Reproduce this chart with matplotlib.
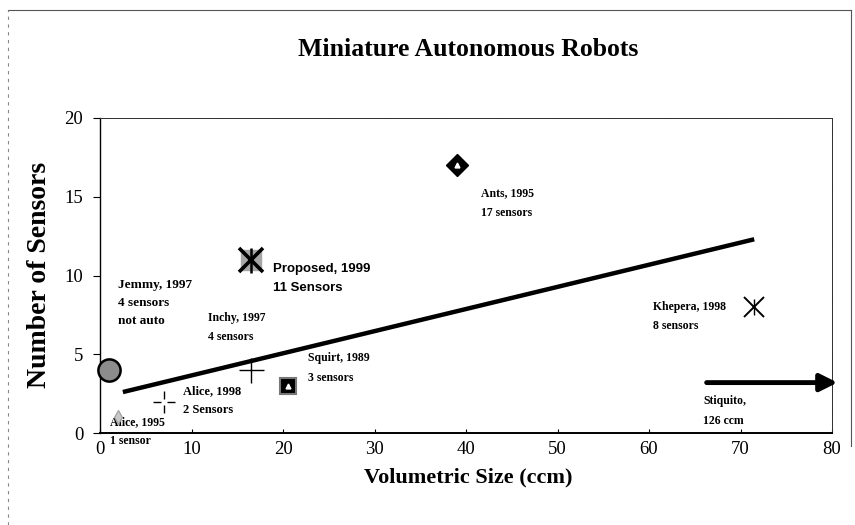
import matplotlib
matplotlib.use("Agg")
import matplotlib.pyplot as plt
from matplotlib.path import Path
from matplotlib.lines import Line2D

# robots: volumetric size (ccm) vs number of sensors
robots = ["Jemmy", "Alice 1995", "Alice 1998", "Inchy", "Squirt", "Proposed", "Ants", "Khepera"]
size_ccm = [1.0, 2.0, 7.0, 16.5, 20.5, 16.5, 39.0, 71.5]
sensors = [4, 1, 2, 4, 3, 11, 17, 8]

# trend line end points
trend_x = [2.5, 71.5]
trend_y = [2.6, 12.3]

# Stiquito (126 ccm) is off the scale, shown as an arrow
stiquito_x = [66.3, 80.6]
stiquito_y = 3.2

label_text = [
    "Jemmy, 1997\n4 sensors\nnot auto",
    "Alice, 1995\n1 sensor",
    "Alice, 1998\n2 Sensors",
    "Inchy, 1997\n4 sensors",
    "Squirt, 1989\n3 sensors",
    "Proposed, 1999\n11 Sensors",
    "Ants, 1995\n17 sensors",
    "Khepera, 1998\n8 sensors",
    "Stiquito,\n126 ccm",
]
label_x = [2.0, 1.1, 9.1, 11.8, 22.7, 18.9, 41.6, 60.4, 65.9]
label_y = [9.75, 1.1, 3.05, 7.7, 5.15, 10.8, 15.6, 8.4, 2.4]
label_size = [9.5, 8.5, 9, 8.5, 8.5, 9.5, 8.5, 8.5, 8.5]

serif = "Liberation Serif"
sans = "Liberation Sans"

fig = plt.figure(figsize=(8.55, 5.25), dpi=100)
ax = fig.add_axes([100 / 855, 92 / 525, 732 / 855, 315 / 525])

ax.set_xlim(0, 80)
ax.set_ylim(0, 20)
ax.set_xticks(range(0, 81, 10))
ax.set_yticks(range(0, 21, 5))
for lab in ax.get_xticklabels() + ax.get_yticklabels():
    lab.set_family(serif)
    lab.set_fontsize(13.5)
ax.tick_params(axis="y", direction="out", length=5, width=0.8, pad=7)
ax.tick_params(axis="x", direction="in", length=3, width=0.8, pad=6)
for side in ["top", "right"]:
    ax.spines[side].set_linewidth(0.7)
    ax.spines[side].set_linestyle((0, (1, 0.6)))
    ax.spines[side].set_color("#333333")
ax.spines["left"].set_linewidth(1.0)
ax.spines["bottom"].set_linewidth(1.4)

# trend line
ax.plot(trend_x, trend_y, color="black", lw=3.2, solid_capstyle="butt", zorder=2)

# broken plus used for Alice 1998
gap_plus = Path(
    [(-1, 0), (-0.25, 0), (0.25, 0), (1, 0), (0, -1), (0, -0.25), (0, 0.25), (0, 1)],
    [Path.MOVETO, Path.LINETO, Path.MOVETO, Path.LINETO,
     Path.MOVETO, Path.LINETO, Path.MOVETO, Path.LINETO],
)

x, y = size_ccm, sensors
# Jemmy
ax.plot(x[0], y[0], "o", ms=16, mfc="#8c8c8c", mec="black", mew=1.8, clip_on=False, zorder=4)
# Alice 1995
ax.plot(x[1], y[1], "d", ms=7, mfc="#c8c8c8", mec="#9a9a9a", mew=0.8, zorder=4)
# Alice 1998
ax.plot(x[2], y[2], marker=gap_plus, ms=16, color="black", mew=1.0, ls="none", zorder=4)
# Inchy
ax.plot(x[3], y[3], "+", ms=18, color="black", mew=1.0, zorder=4)
# Squirt
ax.plot(x[4], y[4], "s", ms=12, mfc="black", mec="#777777", mew=1.5, zorder=4)
ax.plot(x[4], y[4], "^", ms=3.5, mfc="white", mec="white", zorder=5)
# Proposed
ax.plot(x[5], y[5], "s", ms=14, mfc="#a6a6a6", mec="#a6a6a6", zorder=4)
ax.plot(x[5], y[5], "x", ms=17, color="black", mew=2.6, zorder=5)
ax.plot(x[5], y[5], "|", ms=18, color="black", mew=1.8, zorder=5)
# Ants
ax.plot(x[6], y[6], "D", ms=11, mfc="black", mec="black", zorder=4)
ax.plot(x[6], y[6], "^", ms=3.5, mfc="white", mec="white", zorder=5)
# Khepera
ax.plot(x[7], y[7], "x", ms=15, color="black", mew=1.4, zorder=4)
ax.plot(x[7], y[7], "|", ms=11, color="black", mew=1.0, zorder=4)

# Stiquito arrow
ax.annotate("", xy=(stiquito_x[1], stiquito_y), xytext=(stiquito_x[0], stiquito_y),
            arrowprops=dict(arrowstyle="-|>", lw=3.5, color="black", mutation_scale=26,
                            shrinkA=0, shrinkB=0),
            annotation_clip=False)

for t, lx, ly, fs in zip(label_text, label_x, label_y, label_size):
    if t.startswith("Proposed"):
        ax.text(lx, ly, t, family=sans, fontweight="bold", fontsize=fs,
                ha="left", va="top", linespacing=1.75, clip_on=False)
    else:
        ax.text(lx, ly, t, family=serif, fontweight="bold", fontsize=fs,
                ha="left", va="top", linespacing=1.85 * 8.5 / fs, clip_on=False)

fig.text(468 / 855, 1 - 50 / 525, "Miniature Autonomous Robots", family=serif,
         fontweight="bold", fontsize=18.5, ha="center", va="center")
fig.text(40 / 855, 1 - 275 / 525, "Number of Sensors", family=serif,
         fontweight="bold", fontsize=20, rotation=90, ha="center", va="center")
fig.text(468 / 855, 1 - 477 / 525, "Volumetric Size (ccm)", family=serif,
         fontweight="bold", fontsize=16, ha="center", va="center")

# outer frame around the chart
fig.add_artist(Line2D([8 / 855, 851 / 855], [1 - 10 / 525, 1 - 10 / 525],
                      transform=fig.transFigure, color="#555555", lw=0.8))
fig.add_artist(Line2D([8 / 855, 8 / 855], [0, 1 - 10 / 525], transform=fig.transFigure,
                      color="#888888", lw=0.8, ls=(0, (3, 4))))
fig.add_artist(Line2D([851 / 855, 851 / 855], [0.15, 1 - 10 / 525], transform=fig.transFigure,
                      color="#555555", lw=0.8))

fig.savefig("out.png", dpi=100)
